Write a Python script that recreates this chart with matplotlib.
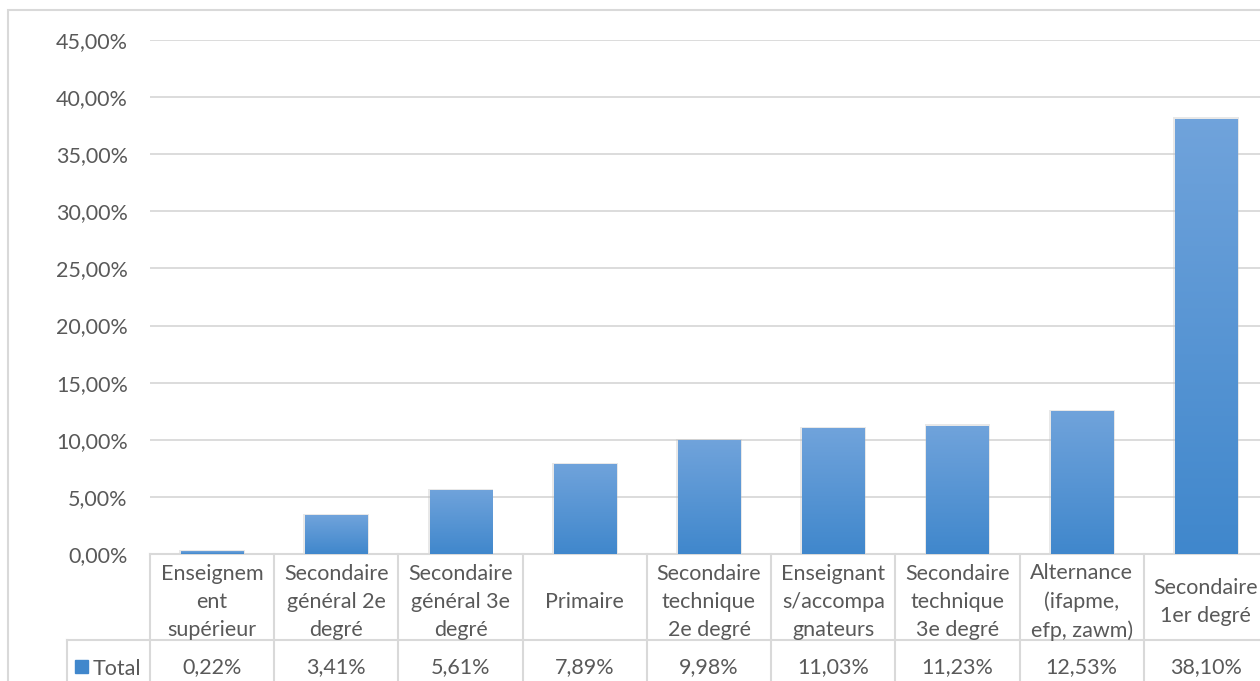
import matplotlib

matplotlib.use("Agg")
import matplotlib.pyplot as plt
import numpy as np
from matplotlib.patches import Rectangle
from matplotlib.transforms import blended_transform_factory

categories = ["Enseignem\nent\nsupérieur", "Secondaire\ngénéral 2e\ndegré",
              "Secondaire\ngénéral 3e\ndegré", "Primaire",
              "Secondaire\ntechnique\n2e degré", "Enseignant\ns/accompa\ngnateurs",
              "Secondaire\ntechnique\n3e degré", "Alternance\n(ifapme,\nefp, zawm)",
              "Secondaire\n1er degré"]
values = [0.22, 3.41, 5.61, 7.89, 9.98, 11.03, 11.23, 12.53, 38.10]
series_name = "Total"
yticks = [0, 5, 10, 15, 20, 25, 30, 35, 40, 45]

TXT = "#595959"
GRID = "#d9d9d9"
TOP, BOT = np.array([0.44, 0.64, 0.86]), np.array([0.25, 0.53, 0.80])
FS = 15.5
plt.rcParams["font.family"] = ["Lato", "DejaVu Sans"]

W, H = 1260, 681
fig = plt.figure(figsize=(W / 100, H / 100), dpi=100)
# plot area in pixels: x 150..1268, y 40..554
ax = fig.add_axes([150 / W, 1 - 554 / H, 1118 / W, 514 / H])
ax.set_xlim(-0.5, len(values) - 0.5)
ax.set_ylim(0, 45)
for s in ax.spines.values():
    s.set_visible(False)
ax.set_xticks([])
ax.set_yticks(yticks)
ax.set_yticklabels([f"{t:.2f}%".replace(".", ",") for t in yticks], color=TXT, fontsize=FS)
ax.tick_params(axis="y", length=0, pad=16)
ax.grid(axis="y", color=GRID, lw=1.3)
ax.set_axisbelow(True)

x = np.arange(len(values))
bars = ax.bar(x, values, 0.5, color=BOT, zorder=2)
grad = np.linspace(0, 1, 256)[:, None, None]
img = BOT * (1 - grad) + TOP * grad
for b in bars:
    x0, y0, w, h = b.get_x(), b.get_y(), b.get_width(), b.get_height()
    # soft shadow
    ax.add_patch(Rectangle((x0 - 0.015, y0), w + 0.03, h + 0.12, color="#bfbfbf",
                           alpha=0.35, zorder=1.5, lw=0))
    im = ax.imshow(img, extent=[x0, x0 + w, y0, y0 + h], origin="lower",
                   aspect="auto", zorder=3)
    im.set_clip_path(b)
ax.set_xlim(-0.5, len(values) - 0.5)
ax.set_ylim(0, 45)

# data table below the plot
tr = blended_transform_factory(ax.transData, ax.transAxes)
row1 = -86 / 514
row2 = -127 / 514
for i in range(len(values) + 1):
    ax.plot([i - 0.5, i - 0.5], [0, row2], transform=tr, color=GRID, lw=1.5, clip_on=False)
ax.plot([-0.5, len(values) - 0.5], [0, 0], transform=tr, color=GRID, lw=1.5, clip_on=False)
ax.plot([-0.5 - 83 / 124.2, len(values) - 0.5], [row1, row1], transform=tr,
        color=GRID, lw=1.5, clip_on=False)
ax.plot([-0.5 - 83 / 124.2] * 2, [row1, row2], transform=tr, color=GRID, lw=1.5, clip_on=False)
for i, (c, v) in enumerate(zip(categories, values)):
    ax.text(i, row1 / 2 - 5 / 514, c, transform=tr, ha="center", va="center", color=TXT,
            fontsize=FS, linespacing=1.5, clip_on=False)
    ax.text(i, (row1 + row2) / 2 - 0.012, f"{v:.2f}%".replace(".", ","), transform=tr,
            ha="center", va="center", color=TXT, fontsize=FS, clip_on=False)

fig.patches.append(Rectangle((75 / W, 1 - 673 / H), 13 / W, 13 / H, color=BOT,
                             transform=fig.transFigure))
fig.text(93 / W, 1 - 669 / H, series_name, ha="left", va="center", color=TXT, fontsize=FS)

# chart border
fig.patches.append(Rectangle((8 / W, -0.1), 2, 1.1 - 10 / H, fill=False, ec=GRID, lw=1.5,
                             transform=fig.transFigure))

fig.savefig("out.png", dpi=100)
